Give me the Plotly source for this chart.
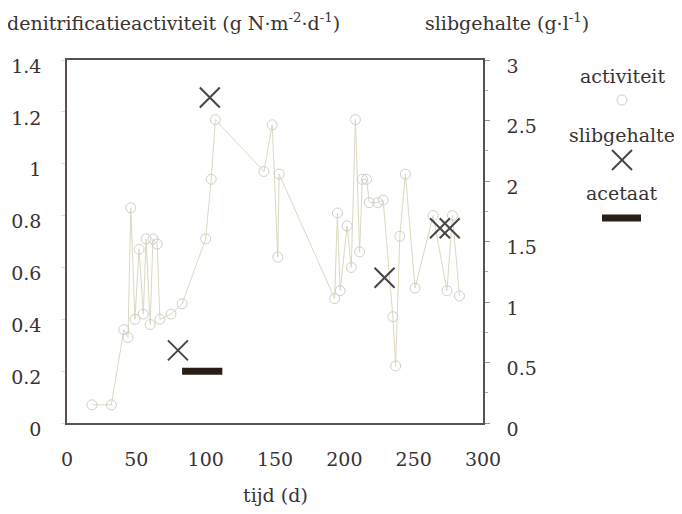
import plotly.graph_objects as go

# activiteit (g N m-2 d-1) vs tijd (d)
act_days = [18, 32, 41, 44, 46, 49, 52, 55, 57, 60, 62, 65, 67, 75, 83, 100, 104, 107,
            142, 148, 152, 153, 193, 195, 197, 202, 205, 208, 211, 213, 216, 218, 224, 228,
            235, 237, 240, 244, 251, 264, 274, 278, 283]
act_vals = [0.07, 0.07, 0.36, 0.33, 0.83, 0.40, 0.67, 0.42, 0.71, 0.38, 0.71, 0.69, 0.40, 0.42, 0.46, 0.71, 0.94, 1.17,
            0.97, 1.15, 0.64, 0.96, 0.48, 0.81, 0.51, 0.76, 0.60, 1.17, 0.66, 0.94, 0.94, 0.85, 0.85, 0.86,
            0.41, 0.22, 0.72, 0.96, 0.52, 0.80, 0.51, 0.80, 0.49]

# slibgehalte (g l-1)
slib_days = [80, 103, 229, 269, 276]
slib_vals = [0.60, 2.69, 1.20, 1.61, 1.61]

# acetaat dosing period
acetaat_days = [83, 112]
acetaat_vals = [0.2, 0.2]

FONT = "DejaVu Serif"
TXT = "#3a3232"
AX = "#5a5050"
FS = 19

OFF = 8
W, H = 682 - OFF, 514 - OFF
ML, MT, MR, MB = 67 - OFF, 60 - OFF, 199, 91

fig = go.Figure()
fig.add_trace(go.Scatter(
    x=act_days, y=act_vals, mode="lines+markers", name="activiteit",
    line=dict(color="#dcd8c0", width=1),
    marker=dict(symbol="circle-open", size=10, color="#cfcfca", line=dict(width=1)),
    showlegend=False))
fig.add_trace(go.Scatter(
    x=acetaat_days, y=acetaat_vals, mode="lines", name="acetaat",
    line=dict(color="#2a1c16", width=7), showlegend=False))
fig.add_trace(go.Scatter(
    x=slib_days, y=slib_vals, mode="markers", name="slibgehalte", yaxis="y2",
    marker=dict(symbol="x-thin-open", size=20, color="#4a4444", line=dict(width=2, color="#4a4444")),
    showlegend=False))

fig.update_layout(
    width=W, height=H,
    margin=dict(l=ML, r=MR, t=MT, b=MB),
    paper_bgcolor="white", plot_bgcolor="white",
    font=dict(family=FONT, size=FS, color=TXT),
    xaxis=dict(range=[0, 300], tickvals=[0, 50, 100, 150, 200, 250, 300],
               showline=True, linecolor=AX, linewidth=1.5, mirror=True,
               showgrid=False, zeroline=False, ticks="outside", ticklen=10,
               tickcolor="rgba(0,0,0,0)", ticklabelstandoff=8, automargin=False,
               tickfont=dict(family=FONT, size=FS, color=TXT)),
    yaxis=dict(range=[0, 1.4], tickvals=[0, 0.2, 0.4, 0.6, 0.8, 1, 1.2, 1.4],
               ticktext=["0", "0.2", "0.4", "0.6", "0.8", "1", "1.2", "1.4"],
               showline=True, linecolor=AX, linewidth=1.5, automargin=False,
               showgrid=False, zeroline=False, ticks="outside", ticklen=4,
               tickcolor="#e0dcdc", ticklabelstandoff=16, ticklabelshift=6,
               tickfont=dict(family=FONT, size=FS, color=TXT)),
    yaxis2=dict(range=[0, 3], tickvals=[0, 0.5, 1, 1.5, 2, 2.5, 3],
                ticktext=["0", "0.5", "1", "1.5", "2", "2.5", "3"],
                overlaying="y", side="right", showline=True, linecolor=AX, linewidth=1.5,
                showgrid=False, zeroline=False, ticks="outside", ticklen=5, automargin=False,
                tickcolor="#9a9090", ticklabelstandoff=13, ticklabelshift=6,
                tickfont=dict(family=FONT, size=FS, color=TXT),
                minor=dict(dtick=0.25, ticks="outside", ticklen=3, tickcolor="#b0a8a8")),
)

def px(xp):
    return (xp - 67) / 416

def py(yp):
    return (423 - yp) / 363

ann = [
    dict(text="denitrificatieactiviteit (g N·m<sup>-2</sup>·d<sup>-1</sup>)", x=5, y=22, anchor="left"),
    dict(text="slibgehalte (g·l<sup>-1</sup>)", x=423, y=22, anchor="left"),
    dict(text="tijd (d)", x=275, y=495, anchor="center"),
]
for a in ann:
    fig.add_annotation(text=a["text"], xref="paper", yref="paper",
                       x=px(a["x"]), y=py(a["y"]),
                       xanchor=a["anchor"], yanchor="middle", showarrow=False,
                       font=dict(family=FONT, size=FS, color=TXT))

legend_items = ["activiteit", "slibgehalte", "acetaat"]
legend_text_y = [76, 135, 193]
lx = 622
for name, ty in zip(legend_items, legend_text_y):
    fig.add_annotation(text=name, xref="paper", yref="paper",
                       x=px(lx), y=py(ty),
                       xanchor="center", yanchor="middle", showarrow=False,
                       font=dict(family=FONT, size=FS, color=TXT))

fig.add_shape(type="circle", xref="paper", yref="paper",
              x0=px(lx - 5), x1=px(lx + 5), y0=py(105), y1=py(95),
              line=dict(color="#cfcfca", width=1))
fig.add_shape(type="line", xref="paper", yref="paper",
              x0=px(lx - 10), x1=px(lx + 10), y0=py(150), y1=py(170),
              line=dict(color="#4a4444", width=2))
fig.add_shape(type="line", xref="paper", yref="paper",
              x0=px(lx - 10), x1=px(lx + 10), y0=py(170), y1=py(150),
              line=dict(color="#4a4444", width=2))
fig.add_shape(type="line", xref="paper", yref="paper",
              x0=px(lx - 20), x1=px(lx + 19), y0=py(218), y1=py(218),
              line=dict(color="#2a1c16", width=7))

fig.write_html("out.html")
